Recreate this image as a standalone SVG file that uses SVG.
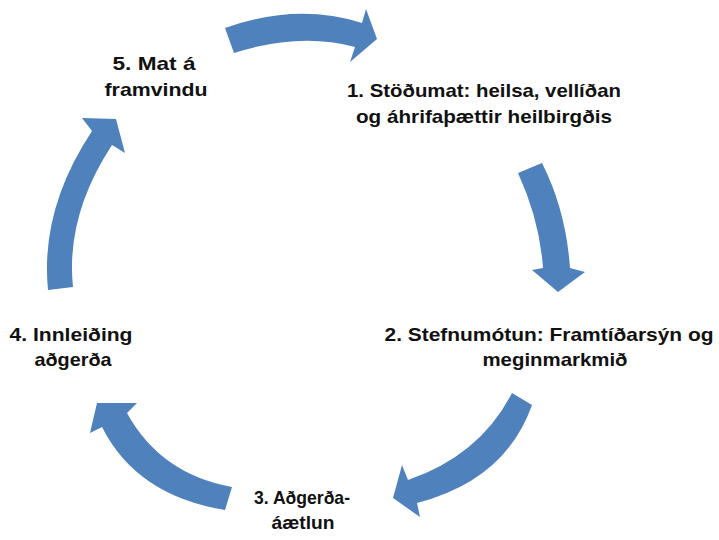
<svg xmlns="http://www.w3.org/2000/svg" width="719" height="540" viewBox="0 0 719 540">
<style>
.arr{fill:#4F81BD;stroke:none}
.lbl{font-family:"Liberation Sans",Arial,sans-serif;font-weight:bold;font-size:19px;fill:#111;text-anchor:middle}
</style>
<rect width="719" height="540" fill="#fff"/>
<g id="connectors">
<path class="arr" d="M225,28 Q296.5,2.5 362,23 L366,9 L377,39 L350,62 L355,47 Q299.5,32 234,53 Z"/>
<path class="arr" d="M518,173 Q539.5,219.5 543,268 L532,270 L558,292 L585,272 L570,268 Q566,210.5 542,163 Z"/>
<path class="arr" d="M512,393 Q480,455.5 408,480 L402,465 L393,498 L420,517 L417,503 Q505.5,480 532,405 Z"/>
<path class="arr" d="M232,487 Q160.5,474 127,413 L137,403 L97,403 L90,433 L102,427 Q136.5,495.5 225,510 Z"/>
<path class="arr" d="M48,290 Q40,209.5 92,131 L82,118 L116,119 L125,153 L112,145 Q65.5,216 73,287 Z"/>
</g>
<g id="n1">
<text class="lbl" x="484" y="97" textLength="274" lengthAdjust="spacingAndGlyphs">1. Stöðumat: heilsa, vellíðan</text>
<text class="lbl" x="484" y="123" textLength="256" lengthAdjust="spacingAndGlyphs">og áhrifaþættir heilbirgðis</text>
</g>
<g id="n2">
<text class="lbl" x="549" y="341" textLength="329" lengthAdjust="spacingAndGlyphs">2. Stefnumótun: Framtíðarsýn og</text>
<text class="lbl" x="555" y="366" textLength="145" lengthAdjust="spacingAndGlyphs">meginmarkmið</text>
</g>
<g id="n3">
<text class="lbl" x="302" y="504" textLength="96" lengthAdjust="spacingAndGlyphs">3. Aðgerða-</text>
<text class="lbl" x="303" y="529" textLength="63" lengthAdjust="spacingAndGlyphs">áætlun</text>
</g>
<g id="n4">
<text class="lbl" x="71" y="341" textLength="123" lengthAdjust="spacingAndGlyphs">4. Innleiðing</text>
<text class="lbl" x="73" y="366" textLength="77" lengthAdjust="spacingAndGlyphs">aðgerða</text>
</g>
<g id="n5">
<text class="lbl" x="154" y="70" textLength="83" lengthAdjust="spacingAndGlyphs">5. Mat á</text>
<text class="lbl" x="156" y="96" textLength="103" lengthAdjust="spacingAndGlyphs">framvindu</text>
</g>
</svg>
